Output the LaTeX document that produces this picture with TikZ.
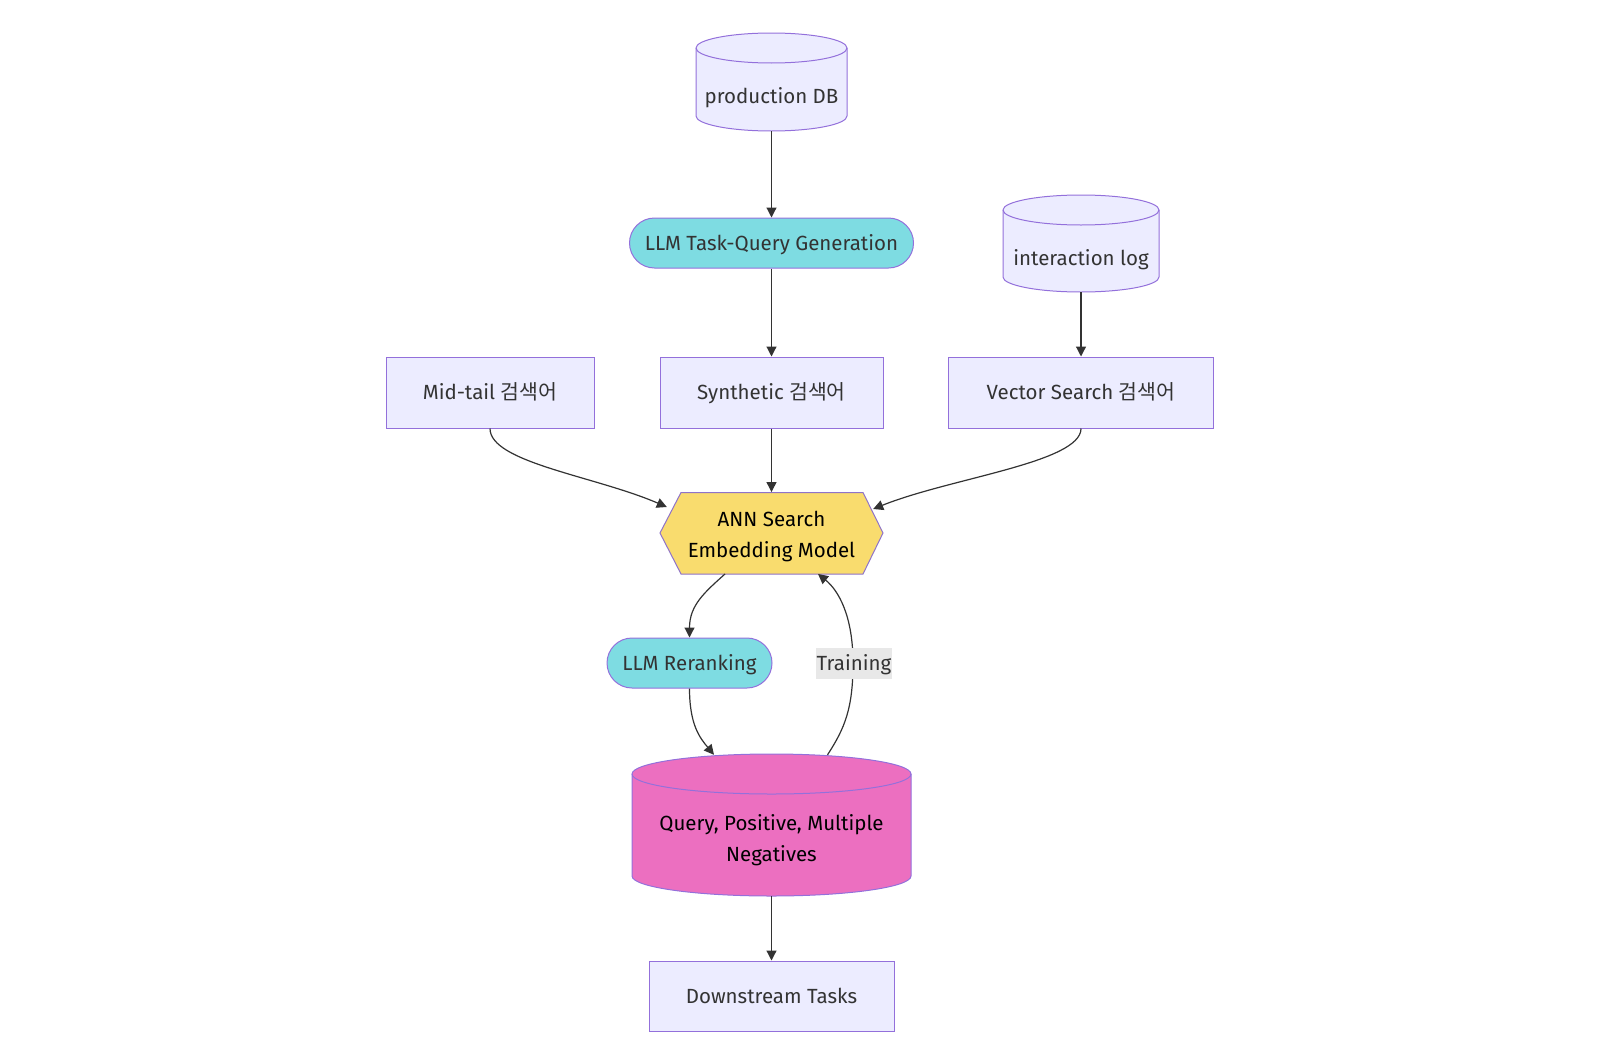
\documentclass[tikz,border=0pt]{standalone}
\usepackage{fontspec}
\setmainfont{Fira Sans}
\newfontfamily\kr{Noto Sans CJK KR}
\usetikzlibrary{arrows.meta,calc}
\definecolor{lav}{HTML}{ECECFF}
\definecolor{lavstroke}{HTML}{9370DB}
\definecolor{cyanf}{HTML}{7EDCE2}
\definecolor{yel}{HTML}{F9DC6E}
\definecolor{pinkf}{HTML}{EC6FC0}
\definecolor{edgec}{HTML}{333333}
\definecolor{txt}{HTML}{333333}
\definecolor{lblbg}{HTML}{E8E8E8}
\newcommand\drawcyl[6]{% L R top bot ry fill
  \pgfmathsetmacro\cylrx{(#2-#1)/2}
  \filldraw[draw=lavstroke, fill=#6, line width=1pt] (#1,#3+#5) -- (#1,#4-#5)
    arc[start angle=180,end angle=360,x radius=\cylrx pt,y radius=#5pt] -- (#2,#3+#5)
    arc[start angle=0,end angle=180,x radius=\cylrx pt,y radius=#5pt] -- cycle;
  \draw[draw=lavstroke, line width=1pt] (#1,#3+#5)
    arc[start angle=180,end angle=360,x radius=\cylrx pt,y radius=#5pt];
}
\begin{document}
\begin{tikzpicture}[x=1pt,y=-1pt,
  every node/.style={font=\fontsize{20.5}{31}\selectfont, text=txt, align=center},
  oneline/.style={text height=19pt, text depth=5pt},
  boxnode/.style={oneline, draw=lavstroke, fill=lav, line width=1pt, minimum height=71pt, inner sep=0pt},
  stadium/.style={oneline, draw=lavstroke, fill=cyanf, line width=1pt, rounded corners=25pt, minimum height=50pt, inner sep=0pt},
  holder/.style={inner sep=0pt},
  conn/.style={draw=edgec, line width=1.2pt, -{Triangle[length=10pt,width=10pt]}},
  ]
\useasboundingbox (0,0) rectangle (1600,1060);

% cylinders and hexagon drawn directly
\drawcyl{696}{847}{33}{131}{15}{lav}
\drawcyl{1003}{1159}{195}{292}{15}{lav}
\drawcyl{632}{911}{754}{896}{20}{pinkf}
\filldraw[draw=lavstroke!80!gray, fill=yel, line width=1pt]
  (660,533) -- (681,492.5) -- (863,492.5) -- (883,533) -- (863,574) -- (681,574) -- cycle;

% nodes
\node[holder, minimum width=151pt, minimum height=98pt] (prod) at (771.5,82) {};
\node[holder] (prodt) at (771.5,97.5) {production DB};
\node[holder, minimum width=156pt, minimum height=97pt] (ilog) at (1081,243.5) {};
\node[holder] (ilogt) at (1081,259.5) {interaction log};
\node[stadium, minimum width=284pt] (ltq) at (771.5,243) {LLM Task-Query Generation};
\node[boxnode, minimum width=208pt] (mid) at (490,392.5) {Mid-tail {\kr 검색어}};
\node[boxnode, minimum width=223pt] (syn) at (771.5,392.5) {Synthetic {\kr 검색어}};
\node[boxnode, minimum width=265pt] (vec) at (1081,392.5) {Vector Search {\kr 검색어}};
\node[holder, minimum width=223pt, minimum height=81.5pt] (hex) at (771.5,533) {};
\node[holder, text=black] (hext) at (771.5,536.5) {ANN Search\\Embedding Model};
\node[stadium, minimum width=165pt] (rr) at (689.5,663) {LLM Reranking};
\node[holder, minimum width=279pt, minimum height=142pt] (qpn) at (771.5,825) {};
\node[holder, text=black] (qpnt) at (771.5,840.5) {Query, Positive, Multiple\\Negatives};
\node[boxnode, minimum width=245pt, minimum height=70pt] (down) at (771.5,996) {Downstream Tasks};

% connectors
\draw[conn] (prod) -- (ltq);
\draw[conn] (ltq) -- (syn);
\draw[conn] (ilog) -- (vec);
\draw[conn] (syn) -- (hex);
\draw[conn] (mid.south) .. controls ($(mid.south)+(0,34)$) and (595,476) .. ($(hex.west)+(7,-26)$);
\draw[conn] (vec.south) .. controls ($(vec.south)+(0,34)$) and (950,478) .. ($(hex.east)+(-10,-24)$);
\draw[conn] ($(hex.south)+(-46.5,0)$) .. controls (705,592) and (689.5,605) .. (rr.north);
\draw[conn] (rr.south) .. controls (689.5,725) and (700,738) .. ($(qpn.north)+(-57.5,1)$);
\draw[conn] ($(qpn.north)+(56,1)$) .. controls (845,728) and (853,708) .. (853,663)
   .. controls (853,615) and (838,590) .. ($(hex.south)+(46.5,0)$);
\draw[conn] (qpn) -- (down);
\node[oneline, fill=lblbg, inner xsep=1pt, inner ysep=3.5pt] (trn) at (854,663.5) {Training};
\end{tikzpicture}
\end{document}
